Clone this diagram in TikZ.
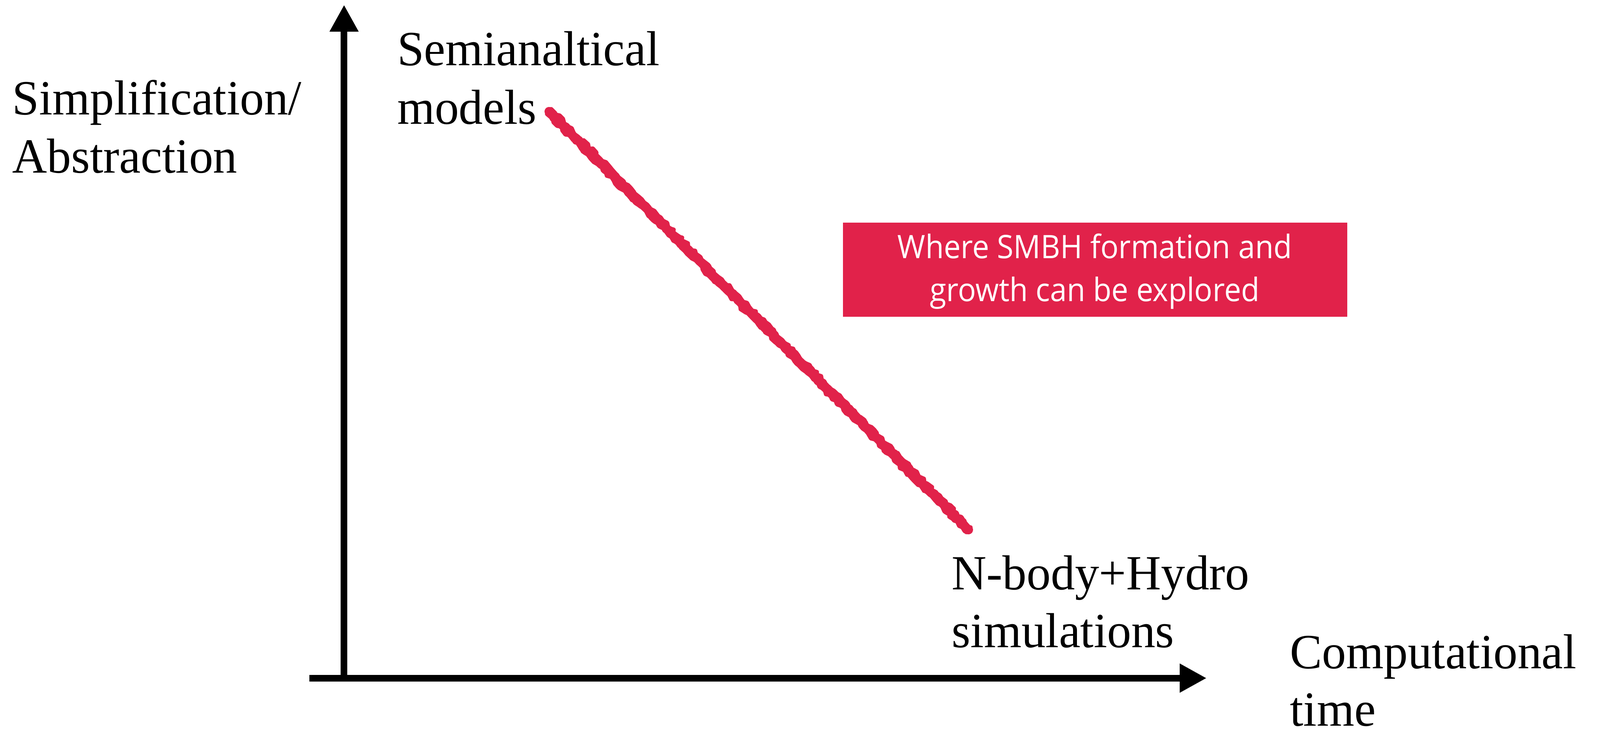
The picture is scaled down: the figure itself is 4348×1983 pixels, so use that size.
\documentclass[tikz,border=0pt]{standalone}
\usepackage{fontspec}
\setmainfont{Liberation Serif}[FakeStretch=0.98]
\newfontfamily\boxfont{Open Sans}[FakeStretch=0.93]
\usetikzlibrary{arrows.meta,decorations.pathmorphing}
\definecolor{crayon}{RGB}{225,34,74}
\tikzset{
  axisline/.style={line width=5.2pt, line cap=butt, -{Triangle[width=21pt,length=20.8pt]}},
  lbl/.style={anchor=base west, inner sep=0pt, font=\fontsize{38}{45}\selectfont},
  boxtxt/.style={anchor=base, inner sep=0pt, text=white, font=\boxfont\fontsize{25}{30}\selectfont},
  rough/.style={draw=crayon, decorate, decoration={random steps, segment length=3pt, amplitude=1.2pt}, line cap=round, line join=round}
}
\begin{document}
\begin{tikzpicture}[x=0.01cm, y=-0.01cm]
\useasboundingbox (0,0) rectangle (4348,1983);
% axes
\coordinate (ybot) at (935,1852);
\coordinate (ytop) at (935,13);
\coordinate (xleft) at (841,1843);
\coordinate (xright) at (3279,1843);
\draw[axisline] (ybot) -- (ytop);
\draw[axisline] (xleft) -- (xright);
% red crayon stroke
\coordinate (rs) at (1492,303);
\coordinate (re) at (2632,1440);
\draw[rough, line width=7pt] (rs) -- (re);
\draw[rough, line width=3pt] ([shift={(6,-7)}]rs) -- ([shift={(6,-7)}]re);
\draw[rough, line width=3pt] ([shift={(-6,7)}]rs) -- ([shift={(-6,7)}]re);
% red box
\node[fill=crayon, minimum width=13.70cm, minimum height=2.56cm, inner sep=0pt, anchor=north west] (box) at (2290,604) {};
\node[boxtxt] (b1) at (2975,702) {Where SMBH formation and};
\node[boxtxt] (b2) at (2975,819) {growth can be explored};
% labels
\node[lbl] (ya1) at (33,312) {Simplification/};
\node[lbl] (ya2) at (33,470) {Abstraction};
\node[lbl] (sa1) at (1079,178) {Semianaltical};
\node[lbl] (sa2) at (1079,337) {models};
\node[lbl] (nb1) at (2586,1602) {N-body+Hydro};
\node[lbl] (nb2) at (2586,1760) {simulations};
\node[lbl] (xa1) at (3505,1817) {Computational};
\node[lbl] (xa2) at (3505,1973) {time};
\end{tikzpicture}
\end{document}
